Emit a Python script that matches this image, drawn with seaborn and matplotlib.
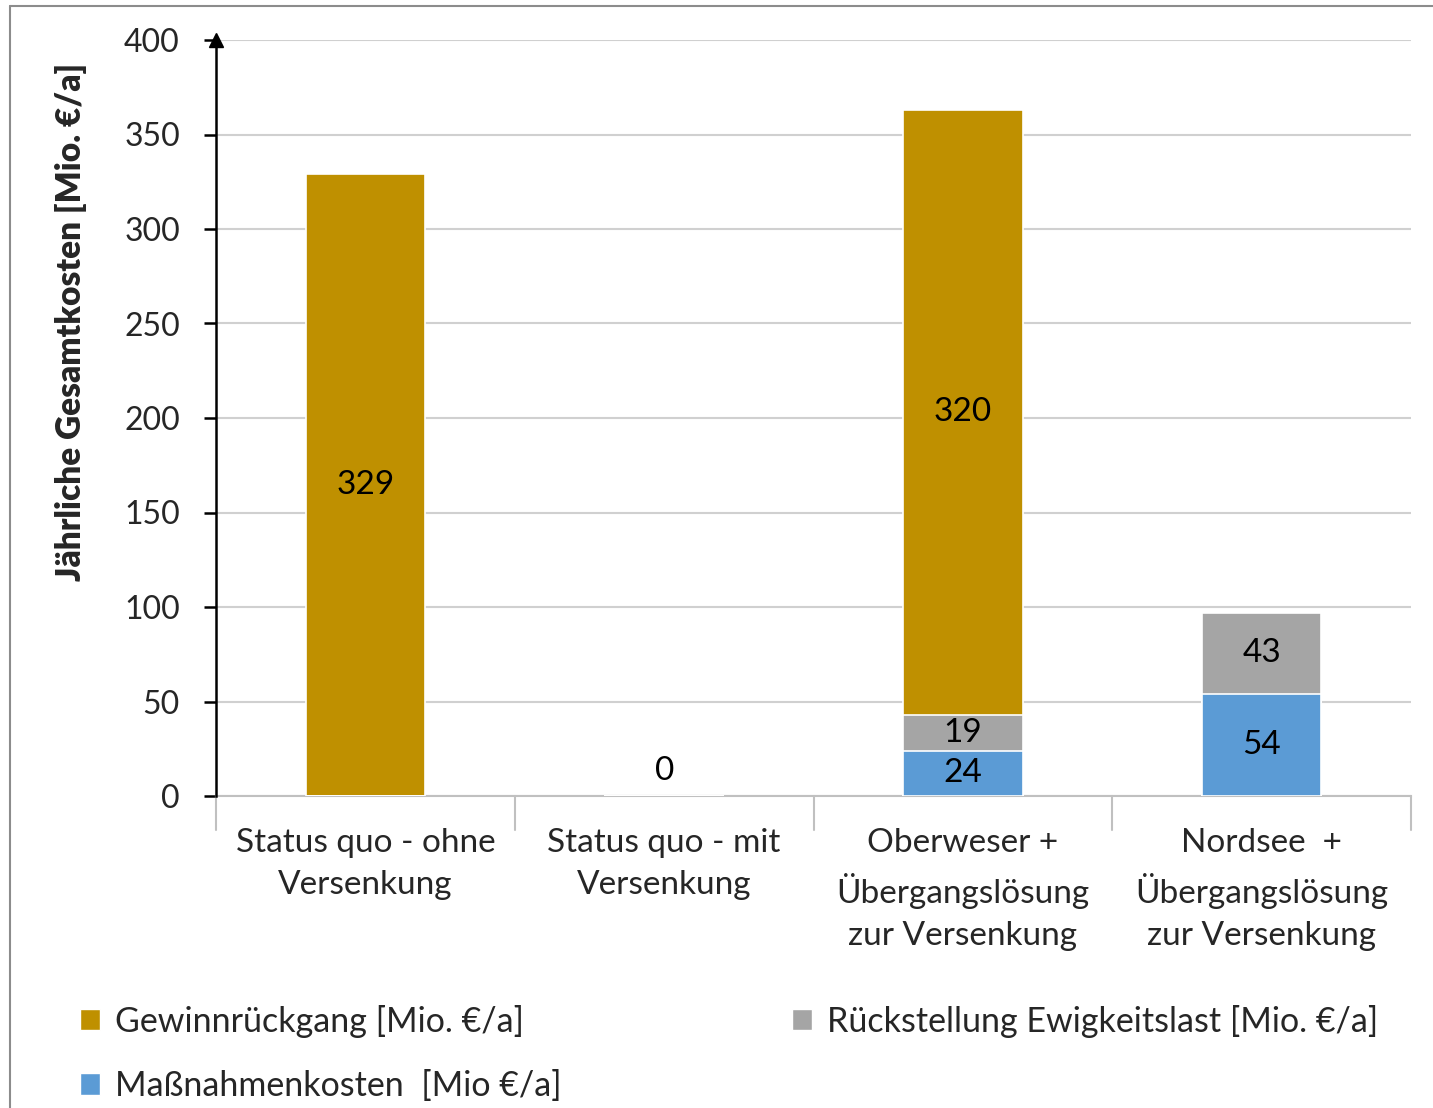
import matplotlib
matplotlib.use("Agg")
import matplotlib.pyplot as plt
import seaborn as sns
import pandas as pd
from matplotlib.patches import Patch
from matplotlib.lines import Line2D

# Scenario names (x axis) and the three cost components per scenario
categories = [
    "Status quo - ohne\nVersenkung",
    "Status quo - mit\nVersenkung",
    "Oberweser +\nÜbergangslösung\nzur Versenkung",
    "Nordsee  +\nÜbergangslösung\nzur Versenkung",
]
massnahmen = [0, 0, 24, 54]        # Maßnahmenkosten [Mio €/a]
rueckstellung = [0, 0, 19, 43]     # Rückstellung Ewigkeitslast [Mio. €/a]
gewinn = [329, 0, 320, 0]          # Gewinnrückgang [Mio. €/a]

series_names = [
    "Gewinnrückgang [Mio. €/a]",
    "Maßnahmenkosten  [Mio €/a]",
    "Rückstellung Ewigkeitslast [Mio. €/a]",
]
c_gold = "#BF9000"
c_grey = "#A5A5A5"
c_blue = "#5B9BD5"

sns.set_theme(style="white")
plt.rcParams["font.family"] = ["Lato", "DejaVu Sans"]

df = pd.DataFrame({
    "Szenario": categories,
    "m": massnahmen,
    "r": rueckstellung,
    "g": gewinn,
})
df["m_r"] = df["m"] + df["r"]
df["total"] = df["m_r"] + df["g"]

fig = plt.figure(figsize=(14.33, 11.08), dpi=100)
ax = fig.add_axes([216 / 1433, 1 - 796 / 1108, 1195 / 1433, 756 / 1108])

# stacked bars: draw cumulative heights from the top segment down
bar_kw = dict(width=0.4, edgecolor="white", linewidth=1.2, ax=ax, zorder=3)
sns.barplot(data=df, x="Szenario", y="total", color=c_gold, saturation=1, **bar_kw)
sns.barplot(data=df, x="Szenario", y="m_r", color=c_grey, saturation=1, **bar_kw)
sns.barplot(data=df, x="Szenario", y="m", color=c_blue, saturation=1, **bar_kw)

# value labels centred in each segment
for i in range(len(categories)):
    segs = [(0, massnahmen[i]),
            (massnahmen[i], rueckstellung[i]),
            (massnahmen[i] + rueckstellung[i], gewinn[i])]
    shown = False
    for base, val in segs:
        if val > 0:
            ax.text(i, base + val / 2, f"{val}", ha="center", va="center",
                    fontsize=24, color="black", zorder=5)
            shown = True
    if not shown:
        ax.annotate("0", (i, 0), xytext=(0, 18), textcoords="offset points",
                    ha="center", va="center", fontsize=24, color="black", zorder=5)

ax.set_xlim(-0.5, 3.5)
ax.set_ylim(0, 400)
ax.set_yticks(range(0, 401, 50))
ax.yaxis.grid(True, color="#D0D0D0", linewidth=1.5, zorder=0)
ax.set_axisbelow(True)

for s in ["top", "right"]:
    ax.spines[s].set_visible(False)
ax.spines["left"].set_color("black")
ax.spines["left"].set_linewidth(1.8)
ax.spines["bottom"].set_color("#C0C0C0")
ax.spines["bottom"].set_linewidth(1.5)
ax.spines["left"].set_zorder(4)

# arrow head on the value axis
ax.plot([0], [1], marker="^", color="black", markersize=10,
        transform=ax.transAxes, clip_on=False, zorder=6)

ax.tick_params(axis="y", which="both", left=True, length=9, width=1.8,
               color="black", labelsize=23, pad=17, direction="out")
ax.tick_params(axis="x", which="both", bottom=False, labelsize=24, pad=17)
for lbl in ax.get_xticklabels():
    lbl.set_linespacing(1.5)
    lbl.set_verticalalignment("top")

# category separator ticks on the baseline
for xb in [-0.5, 0.5, 1.5, 2.5, 3.5]:
    ax.plot([xb, xb], [0, -0.045], color="#C0C0C0", linewidth=1.5,
            transform=ax.get_xaxis_transform(), clip_on=False, zorder=4)

ax.set_xlabel("")
ax.set_ylabel("Jährliche Gesamtkosten [Mio. €/a]", fontsize=24,
              fontweight="heavy")
ax.yaxis.set_label_coords(-0.108, 0.627)

handles = [Patch(facecolor=c_gold, edgecolor="white"),
           Patch(facecolor=c_blue, edgecolor="white"),
           Patch(facecolor=c_grey, edgecolor="white")]
fig.legend(handles, series_names, loc="upper left",
           bbox_to_anchor=(49 / 1433, 1 - 974 / 1108), ncol=2, frameon=False,
           fontsize=24.5, handlelength=0.6, handleheight=0.6, handletextpad=0.45,
           columnspacing=6.75, labelspacing=0.95)

# outer chart frame (top and left edge)
fig.add_artist(Line2D([10 / 1433, 1], [1 - 6 / 1108, 1 - 6 / 1108],
                      color="#8C8C8C", linewidth=1.5, transform=fig.transFigure))
fig.add_artist(Line2D([10 / 1433, 10 / 1433], [0, 1 - 6 / 1108],
                      color="#8C8C8C", linewidth=1.5, transform=fig.transFigure))

fig.savefig("out.png", dpi=100, facecolor="white")
